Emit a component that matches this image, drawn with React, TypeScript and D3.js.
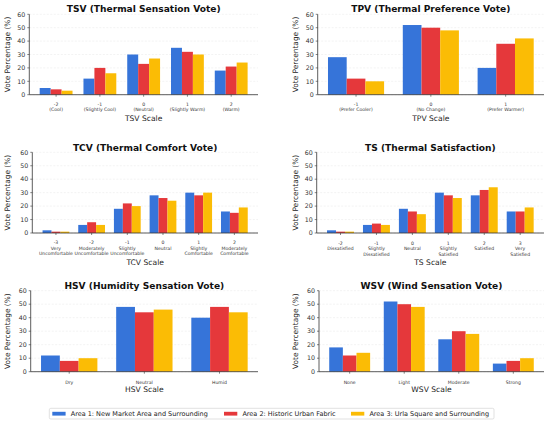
import React from 'react';
import * as d3 from 'd3';

const areaNames = [
  'Area 1: New Market Area and Surrounding',
  'Area 2: Historic Urban Fabric',
  'Area 3: Urla Square and Surrounding',
];
const areaColors = ['#3674d9', '#e5383b', '#fbbc05'];
const yTicks = [0, 10, 20, 30, 40, 50, 60];

const tsvCats = ['-2\n(Cool)', '-1\n(Slightly Cool)', '0\n(Neutral)', '1\n(Slightly Warm)', '2\n(Warm)'];
const tsvA1 = [5, 12, 30, 35, 18];
const tsvA2 = [4, 20, 23, 32, 21];
const tsvA3 = [3, 16, 27, 30, 24];

const tpvCats = ['-1\n(Prefer Cooler)', '0\n(No Change)', '1\n(Prefer Warmer)'];
const tpvA1 = [28, 52, 20];
const tpvA2 = [12, 50, 38];
const tpvA3 = [10, 48, 42];

const tcvCats = [
  '-3\nVery\nUncomfortable',
  '-2\nModerately\nUncomfortable',
  '-1\nSlightly\nUncomfortable',
  '0\nNeutral',
  '1\nSlightly\nComfortable',
  '2\nModerately\nComfortable',
];
const tcvA1 = [2, 6, 18, 28, 30, 16];
const tcvA2 = [1, 8, 22, 26, 28, 15];
const tcvA3 = [1, 6, 20, 24, 30, 19];

const tsCats = [
  '-2\nDissatisfied',
  '-1\nSlightly\nDissatisfied',
  '0\nNeutral',
  '1\nSlightly\nSatisfied',
  '2\nSatisfied',
  '3\nVery\nSatisfied',
];
const tsA1 = [2, 6, 18, 30, 28, 16];
const tsA2 = [1, 7, 16, 28, 32, 16];
const tsA3 = [1, 6, 14, 26, 34, 19];

const hsvCats = ['Dry', 'Neutral', 'Humid'];
const hsvA1 = [12, 48, 40];
const hsvA2 = [8, 44, 48];
const hsvA3 = [10, 46, 44];

const wsvCats = ['None', 'Light', 'Moderate', 'Strong'];
const wsvA1 = [18, 52, 24, 6];
const wsvA2 = [12, 50, 30, 8];
const wsvA3 = [14, 48, 28, 10];

const panels = [
  { title: 'TSV (Thermal Sensation Vote)', xlabel: 'TSV Scale', cats: tsvCats, series: [tsvA1, tsvA2, tsvA3] },
  { title: 'TPV (Thermal Preference Vote)', xlabel: 'TPV Scale', cats: tpvCats, series: [tpvA1, tpvA2, tpvA3] },
  { title: 'TCV (Thermal Comfort Vote)', xlabel: 'TCV Scale', cats: tcvCats, series: [tcvA1, tcvA2, tcvA3] },
  { title: 'TS (Thermal Satisfaction)', xlabel: 'TS Scale', cats: tsCats, series: [tsA1, tsA2, tsA3] },
  { title: 'HSV (Humidity Sensation Vote)', xlabel: 'HSV Scale', cats: hsvCats, series: [hsvA1, hsvA2, hsvA3] },
  { title: 'WSV (Wind Sensation Vote)', xlabel: 'WSV Scale', cats: wsvCats, series: [wsvA1, wsvA2, wsvA3] },
];

// layout (pixel boxes of each plot area)
const layout = [
  { x0: 29.3, x1: 258, y0: 14.3, y1: 94.7, titleY: 11.8, tickY: 105.6, xlabelY: 120.6, ylabX: 7.3 },
  { x0: 317.7, x1: 544, y0: 14.3, y1: 94.7, titleY: 11.8, tickY: 105.6, xlabelY: 120.6, ylabX: 295.7 },
  { x0: 32.3, x1: 258, y0: 152.3, y1: 233, titleY: 150.9, tickY: 244.4, xlabelY: 264.9, ylabX: 7 },
  { x0: 316.7, x1: 544, y0: 152.3, y1: 233, titleY: 150.9, tickY: 244.8, xlabelY: 264.6, ylabX: 295.7 },
  { x0: 30.7, x1: 258, y0: 290.7, y1: 371.7, titleY: 289.3, tickY: 383.6, xlabelY: 392, ylabX: 7 },
  { x0: 319, x1: 544, y0: 290.7, y1: 371.7, titleY: 289.3, tickY: 383.6, xlabelY: 392, ylabX: 295.7 },
];

const FONT = 'DejaVu Sans, sans-serif';
const BAR_W = 0.25;
const LINE_H = 5.4;

function Panel({ p, l }: { p: typeof panels[0]; l: typeof layout[0] }) {
  const n = p.cats.length;
  const lo = -1.5 * BAR_W;
  const hi = n - 1 + 1.5 * BAR_W;
  const m = (hi - lo) * 0.05;
  const x = d3.scaleLinear().domain([lo - m, hi + m]).range([l.x0, l.x1]);
  const y = d3.scaleLinear().domain([0, 60]).range([l.y1, l.y0]);
  const cx = (l.x0 + l.x1) / 2;
  return (
    <g>
      {yTicks.map((t) => (
        <line key={'g' + t} x1={l.x0} x2={l.x1} y1={y(t)} y2={y(t)} stroke="#e6e6e6" strokeWidth={0.5} strokeDasharray="2,1.5" />
      ))}
      {p.series.map((s, si) =>
        s.map((v, ci) => {
          const xc = ci + (si - 1) * BAR_W;
          const bx = x(xc - BAR_W / 2);
          const bw = x(xc + BAR_W / 2) - bx;
          return <rect key={si + '-' + ci} x={bx} y={y(v)} width={bw} height={y(0) - y(v)} fill={areaColors[si]} />;
        })
      )}
      <line x1={l.x0} x2={l.x0} y1={l.y0} y2={l.y1} stroke="#333" strokeWidth={0.8} />
      <line x1={l.x0} x2={l.x1} y1={l.y1} y2={l.y1} stroke="#333" strokeWidth={0.8} />
      {yTicks.map((t) => (
        <g key={'y' + t}>
          <line x1={l.x0 - 2} x2={l.x0} y1={y(t)} y2={y(t)} stroke="#333" strokeWidth={0.6} />
          <text x={l.x0 - 4} y={y(t) + 2.2} fontSize={6.3} fill="#333" textAnchor="end" fontFamily={FONT}>{t}</text>
        </g>
      ))}
      {p.cats.map((c, ci) => (
        <g key={'x' + ci}>
          <line x1={x(ci)} x2={x(ci)} y1={l.y1} y2={l.y1 + 2} stroke="#333" strokeWidth={0.6} />
          {c.split('\n').map((ln, li) => (
            <text key={li} x={x(ci)} y={l.tickY + li * LINE_H} fontSize={4.6} fill="#333" textAnchor="middle" fontFamily={FONT}>{ln}</text>
          ))}
        </g>
      ))}
      <text x={cx} y={l.titleY} fontSize={9.1} fontWeight="bold" textAnchor="middle" fontFamily={FONT} fill="#111">{p.title}</text>
      <text x={cx} y={l.xlabelY} fontSize={7.6} textAnchor="middle" fontFamily={FONT} fill="#222">{p.xlabel}</text>
      <text transform={`translate(${l.ylabX + 2.6},${(l.y0 + l.y1) / 2}) rotate(-90)`} fontSize={7.4} textAnchor="middle" fontFamily={FONT} fill="#222">Vote Percentage (%)</text>
    </g>
  );
}

const legendPos = [52.3, 224, 351];

export default function App() {
  return (
    <svg width={550} height={423} style={{ position: 'absolute', left: 0, top: 0, background: '#fff' }}>
      <rect x={0} y={0} width={550} height={423} fill="#fff" />
      {panels.map((p, i) => (
        <Panel key={i} p={p} l={layout[i]} />
      ))}
      <rect x={49.3} y={408.3} width={444.7} height={10.7} rx={1.5} fill="#fff" stroke="#cccccc" strokeWidth={0.6} />
      {areaNames.map((a, i) => (
        <g key={a}>
          <rect x={legendPos[i]} y={411.8} width={13.3} height={3.8} fill={areaColors[i]} />
          <text x={legendPos[i] + 18.4} y={416} fontSize={6.5} fontFamily={FONT} fill="#222">{a}</text>
        </g>
      ))}
    </svg>
  );
}
